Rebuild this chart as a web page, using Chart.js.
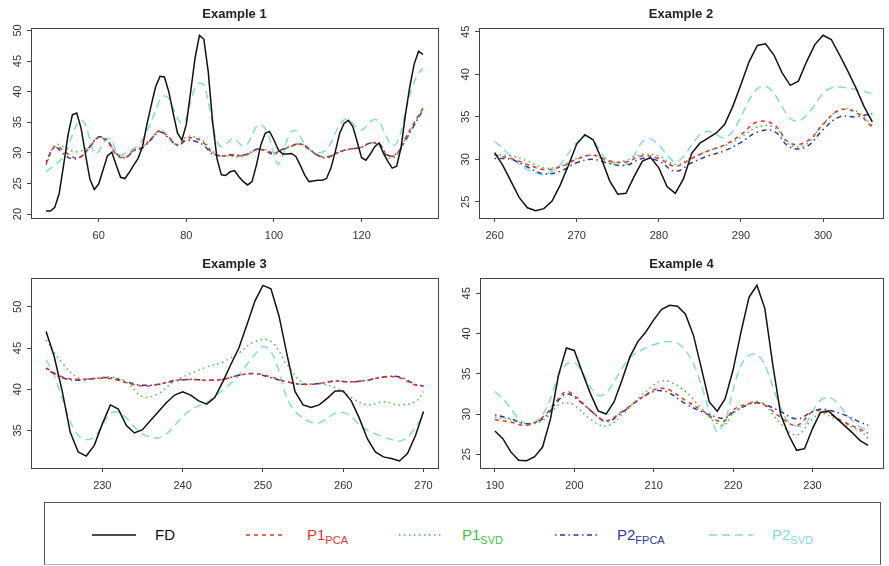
<!DOCTYPE html>
<html>
<head>
<meta charset="utf-8">
<script src="https://cdn.jsdelivr.net/npm/chart.js@4.4.1/dist/chart.umd.min.js"></script>
<style>
  body { margin: 0; background: #fff; }
  #wrap { position: relative; width: 889px; height: 566px; overflow: hidden; font-family: "Liberation Sans", Arial, sans-serif; }
  #wrap canvas { position: absolute; }
  #legend { position: absolute; left: 44px; top: 502px; width: 837px; height: 63px; border: 1px solid #555; border-bottom-color: #bbb; box-sizing: border-box; }
  .key { position: absolute; top: 528px; }
  .lab { position: absolute; top: 527px; font-size: 15px; line-height: 16px; white-space: nowrap; }
  .lab sub { font-size: 11px; vertical-align: -4px; line-height: 0; }
</style>
</head>
<body>
<div id="wrap">
  <canvas id="c1" width="444" height="250" style="left:0;top:0"></canvas>
  <canvas id="c2" width="445" height="250" style="left:444px;top:0"></canvas>
  <canvas id="c3" width="444" height="250" style="left:0;top:250px"></canvas>
  <canvas id="c4" width="445" height="250" style="left:444px;top:250px"></canvas>
  <div id="legend"></div>
  <svg class="key" style="left:92px" width="44" height="14"><line x1="0" y1="7" x2="44" y2="7" stroke="#111" stroke-width="1.5"/></svg>
  <span class="lab" style="left:155px;color:#111">FD</span>
  <svg class="key" style="left:246px" width="40" height="14"><line x1="0" y1="7" x2="40" y2="7" stroke="#e8312f" stroke-width="1.5" stroke-dasharray="4,4"/></svg>
  <span class="lab" style="left:307px;color:#e8312f">P1<sub>PCA</sub></span>
  <svg class="key" style="left:399px" width="44" height="14"><line x1="0" y1="7" x2="44" y2="7" stroke="#3ec43e" stroke-width="1.5" stroke-dasharray="1.5,3.5"/></svg>
  <span class="lab" style="left:462px;color:#3ec43e">P1<sub>SVD</sub></span>
  <svg class="key" style="left:555px" width="44" height="14"><line x1="0" y1="7" x2="44" y2="7" stroke="#2b3a9e" stroke-width="1.5" stroke-dasharray="1.5,3.5,5,3.5"/></svg>
  <span class="lab" style="left:617px;color:#2b3a9e">P2<sub>FPCA</sub></span>
  <svg class="key" style="left:709px" width="44" height="14"><line x1="0" y1="7" x2="44" y2="7" stroke="#84dcd5" stroke-width="1.5" stroke-dasharray="8,5"/></svg>
  <span class="lab" style="left:772px;color:#84dcd5">P2<sub>SVD</sub></span>
</div>
<script>
// Example 1
const ex1X = [48,49,50,51,52,53,54,55,56,57,58,59,60,61,62,63,64,65,66,67,68,69,70,71,72,73,74,75,76,77,78,79,80,81,82,83,84,85,86,87,88,89,90,91,92,93,94,95,96,97,98,99,100,101,102,103,104,105,106,107,108,109,110,111,112,113,114,115,116,117,118,119,120,121,122,123,124,125,126,127,128,129,130,131,132,133,134];
const ex1FD = [20.5,20.5,21.1,23.4,28.0,32.9,36.2,36.5,34.0,29.7,25.7,24.0,24.9,27.2,29.5,30.1,28.0,26.0,25.8,26.8,28.0,29.1,31.0,34.6,37.8,40.8,42.5,42.4,40.0,36.5,33.2,32.1,34.6,40.0,45.5,49.2,48.6,43.3,35.1,29.1,26.4,26.3,26.9,27.1,26.1,25.3,24.75,25.3,28.0,31.3,33.2,33.5,32.1,30.5,29.8,29.8,29.9,29.4,28.0,26.4,25.3,25.4,25.5,25.5,25.8,27.5,30.2,33.2,34.8,35.3,34.3,31.8,29.2,28.8,29.8,31.0,31.6,29.9,28.6,27.5,27.8,30.8,36.2,40.8,44.5,46.6,46.1];
const ex1P2SVD = [26.9,27.5,28.0,28.6,29.4,31.0,32.9,34.6,35.4,34.6,32.1,29.9,30.2,31.6,32.3,32.1,30.2,29.6,29.9,30.3,30.7,31.3,32.1,33.5,35.1,37.0,38.7,39.3,38.9,37.3,35.7,34.8,35.7,38.4,40.6,41.4,41.1,38.4,34.6,31.8,31.0,31.3,32.1,32.4,31.6,31.1,31.5,32.9,34.3,34.6,34.0,32.4,29.7,28.1,29.4,32.1,33.5,33.6,32.7,31.4,30.6,30.2,30.0,30.1,30.5,31.6,33.2,34.6,35.4,35.5,34.8,34.0,33.7,34.3,35.1,35.5,35.1,33.7,32.1,31.2,31.6,33.5,36.7,39.4,41.6,43.0,43.8];
const ex1XS = [48,50,52,54,56,58,60,62,64,66,68,70,72,74,76,78,80,82,84,86,88,90,92,94,96,98,100,102,104,106,108,110,112,114,116,118,120,122,124,126,128,130,132,134];
const ex1P1PCA = [28.2,31.0,30.4,29.3,29.4,31.0,32.5,31.8,29.7,29.2,30.4,30.9,32.3,33.6,32.5,31.3,32.3,32.4,31.6,30.0,29.5,29.6,29.5,29.8,30.5,30.4,30.0,30.5,31.1,31.4,30.6,29.6,29.3,29.9,30.4,30.7,30.9,31.6,31.3,29.5,29.8,32.4,34.9,37.3];
const ex1P1SVD = [28.0,31.3,31.0,30.3,30.3,31.2,32.5,32.0,29.9,29.3,30.5,31.0,32.4,33.7,32.6,31.4,32.6,32.6,31.9,30.2,29.5,29.5,29.3,29.7,30.5,30.5,30.0,30.6,31.2,31.5,30.6,29.5,29.2,29.8,30.4,30.7,31.0,31.6,31.2,29.2,29.6,32.3,34.7,37.2];
const ex1P2FPCA = [28.6,30.9,29.8,29.0,29.4,31.0,32.6,32.0,29.9,29.2,30.3,30.8,32.2,33.4,32.4,31.2,32.0,31.9,31.2,29.8,29.5,29.7,29.6,29.8,30.6,30.3,29.8,30.6,31.1,31.5,30.7,29.6,29.2,29.8,30.4,30.7,30.9,31.6,31.5,29.6,29.9,32.0,34.5,37.0];
const ex1XTicks = [60,80,100,120];
const ex1YTicks = [20,25,30,35,40,45,50];

// Example 2
const ex2X = [260,261,262,263,264,265,266,267,268,269,270,271,272,273,274,275,276,277,278,279,280,281,282,283,284,285,286,287,288,289,290,291,292,293,294,295,296,297,298,299,300,301,302,303,304,305,306];
const ex2FD = [30.8,29.3,27.4,25.5,24.3,23.95,24.2,25.1,27.0,29.3,31.8,32.9,32.3,30.1,27.5,25.9,26.0,28.0,29.8,30.2,29.0,26.8,26.0,27.7,30.7,31.9,32.5,33.1,34.1,36.2,38.8,41.5,43.4,43.6,42.3,40.2,38.7,39.2,41.5,43.5,44.6,44.1,42.3,40.4,38.4,36.2,34.4];
const ex2P2SVD = [32.1,31.3,30.3,29.4,28.8,28.4,28.2,28.6,29.4,30.7,32.0,32.7,32.3,30.7,29.7,29.3,29.4,30.5,32.1,32.4,31.7,30.5,29.7,30.3,31.7,32.9,33.3,32.9,32.5,33.3,35.0,37.0,38.3,38.6,37.8,36.2,34.8,34.5,35.2,36.4,37.8,38.4,38.5,38.4,38.2,38.0,37.7];
const ex2XS = [260,262,264,266,268,270,272,274,276,278,280,282,284,286,288,290,292,294,296,298,300,302,304,306];
const ex2P1PCA = [30.5,30.1,29.4,28.8,29.1,30.0,30.5,29.8,29.7,30.4,30.1,29.2,30.1,31.0,31.7,32.9,34.4,34.1,31.9,32.1,34.1,35.8,35.5,33.8];
const ex2P1SVD = [30.6,30.4,29.8,29.0,29.2,30.1,30.5,29.7,29.9,30.6,30.4,29.4,30.2,31.0,31.6,32.6,33.8,33.8,31.7,31.8,34.2,35.8,35.7,34.0];
const ex2P2FPCA = [30.1,30.0,29.1,28.3,28.6,29.6,30.0,29.5,29.3,30.1,29.8,28.6,29.6,30.4,31.0,32.0,33.2,33.3,31.4,31.5,33.5,35.0,35.0,35.4];
const ex2XTicks = [260,270,280,290,300];
const ex2YTicks = [25,30,35,40,45];

// Example 3
const ex3X = [223,224,225,226,227,228,229,230,231,232,233,234,235,236,237,238,239,240,241,242,243,244,245,246,247,248,249,250,251,252,253,254,255,256,257,258,259,260,261,262,263,264,265,266,267,268,269,270];
const ex3FD = [47.0,44.0,39.8,34.8,32.4,31.9,33.2,35.8,38.1,37.6,35.6,34.7,35.1,36.2,37.3,38.4,39.3,39.7,39.3,38.6,38.2,39.0,40.9,43.0,45.0,47.8,50.7,52.6,52.2,48.9,44.2,39.7,38.1,37.8,38.1,38.9,39.8,39.8,38.6,36.5,34.0,32.4,31.8,31.6,31.3,32.2,34.4,37.3];
const ex3P2SVD = [43.6,41.7,38.9,36.1,34.4,33.9,34.2,35.6,37.1,37.2,36.5,35.4,34.6,34.2,34.1,34.6,35.6,36.7,37.5,38.0,38.4,39.1,39.9,40.7,41.7,43.0,44.2,45.2,44.6,42.2,38.9,37.3,36.5,36.0,35.9,36.5,37.1,37.2,36.7,35.7,35.0,34.6,34.2,33.9,33.7,34.2,35.4,36.9];
const ex3XS = [223,225,227,229,231,233,235,237,239,241,243,245,247,249,251,253,255,257,259,261,263,265,267,269,270];
const ex3P1PCA = [42.6,41.5,41.2,41.3,41.3,40.8,40.4,40.6,41.1,41.2,41.1,41.2,41.7,41.9,41.5,40.9,40.6,40.7,41.0,40.9,41.1,41.5,41.4,40.5,40.4];
const ex3P1SVD = [46.0,43.2,41.4,41.3,41.5,40.9,39.1,39.5,41.0,41.9,42.7,43.3,44.4,45.8,45.8,43.0,40.8,40.7,40.2,39.0,38.1,38.5,38.1,38.5,39.7];
const ex3P2FPCA = [42.5,41.4,41.1,41.3,41.4,40.9,40.5,40.6,41.0,41.2,41.1,41.2,41.7,41.9,41.4,40.9,40.6,40.7,41.0,40.9,41.1,41.5,41.5,40.6,40.4];
const ex3XTicks = [230,240,250,260,270];
const ex3YTicks = [35,40,45,50];

// Example 4
const ex4X = [190,191,192,193,194,195,196,197,198,199,200,201,202,203,204,205,206,207,208,209,210,211,212,213,214,215,216,217,218,219,220,221,222,223,224,225,226,227,228,229,230,231,232,233,234,235,236,237];
const ex4FD = [27.9,26.95,25.3,24.25,24.2,24.7,25.9,29.4,34.8,38.2,37.9,35.2,32.6,30.4,30.0,31.5,34.2,37.1,39.0,40.2,41.7,43.0,43.5,43.4,42.4,39.8,35.7,31.5,30.35,31.9,35.5,40.2,44.5,46.0,43.1,36.1,29.9,27.4,25.5,25.7,28.2,30.2,30.4,29.5,28.6,27.7,26.7,26.1];
const ex4P2SVD = [32.8,31.9,30.7,29.4,28.8,29.0,29.9,31.9,34.8,36.2,36.4,35.2,33.4,32.3,32.6,34.0,35.7,37.0,37.7,38.2,38.6,38.9,39.0,38.8,37.9,36.3,33.6,30.3,27.8,29.2,33.0,36.1,37.3,37.4,36.1,33.4,30.7,29.0,28.5,28.6,30.3,31.7,32.1,31.5,30.3,29.2,28.4,28.0];
const ex4XS = [190,192,194,196,198,199,200,202,204,206,208,210,211,212,214,216,218,219,220,222,223,224,226,228,230,231,232,234,236,237];
const ex4P1PCA = [29.3,29.0,28.6,29.6,31.9,32.8,32.3,30.5,29.2,30.3,31.7,33.0,33.2,33.0,31.7,30.5,29.2,29.2,30.5,31.3,31.4,31.1,29.6,28.6,30.3,30.4,30.1,29.0,28.1,27.6];
const ex4P1SVD = [29.6,29.3,28.8,29.2,31.1,31.4,31.1,29.4,28.5,29.9,31.9,33.6,34.1,34.0,32.8,30.7,28.8,28.7,30.1,31.3,31.6,31.1,28.8,27.4,29.4,30.1,29.8,28.8,27.9,27.0];
const ex4P2FPCA = [29.9,29.4,28.8,29.4,31.7,32.5,32.1,30.5,29.1,30.2,31.7,32.8,32.9,32.6,31.3,30.3,29.6,29.5,30.2,31.2,31.4,31.2,30.3,29.4,30.3,30.6,30.5,29.9,29.0,28.6];
const ex4XTicks = [190,200,210,220,230];
const ex4YTicks = [25,30,35,40,45];

const FONT = '"Liberation Sans", Arial, sans-serif';
const BLACK = "#111111";
const RED = "#e8312f";
const GREEN = "#3ec43e";
const BLUE = "#2b3a9e";
const CYAN = "#84dcd5";

// box around the plot region plus R-style vertical y labels
const rBox = {
  id: "rBox",
  afterDraw(chart) {
    const { ctx, chartArea: a } = chart;
    const y = chart.scales.y;
    ctx.save();
    ctx.strokeStyle = "#444";
    ctx.lineWidth = 1;
    ctx.strokeRect(Math.round(a.left) + 0.5, Math.round(a.top) + 0.5, Math.round(a.right - a.left), Math.round(a.bottom - a.top));
    ctx.fillStyle = "#333";
    ctx.font = "11px " + FONT;
    ctx.textAlign = "center";
    ctx.textBaseline = "middle";
    y.ticks.forEach((t) => {
      ctx.save();
      ctx.translate(a.left - 13, y.getPixelForValue(t.value));
      ctx.rotate(-Math.PI / 2);
      ctx.fillText(String(t.value), 0, 0);
      ctx.restore();
    });
    ctx.restore();
  },
};

function line(xs, ys, color, dash, tension) {
  return {
    data: xs.map((x, i) => ({ x: x, y: ys[i] })),
    borderColor: color,
    borderWidth: 1.5,
    borderDash: dash,
    pointRadius: 0,
    tension: tension,
    fill: false,
  };
}

function makeChart(id, title, box, xr, yr, xTicks, yTicks, datasets) {
  const cv = document.getElementById(id);
  return new Chart(cv, {
    type: "line",
    data: { datasets: datasets },
    options: {
      responsive: false,
      animation: false,
      devicePixelRatio: 1,
      layout: { autoPadding: false, padding: { left: 0, top: 0, bottom: 0, right: cv.width - box.right } },
      plugins: {
        legend: { display: false },
        tooltip: { enabled: false },
        title: {
          display: true,
          text: title,
          fullSize: false,
          color: "#222",
          font: { family: FONT, size: 13, weight: "bold" },
          padding: { top: 7, bottom: box.top - 7 - 15.6 },
        },
      },
      scales: {
        x: {
          type: "linear",
          min: xr[0],
          max: xr[1],
          afterBuildTicks: (s) => { s.ticks = xTicks.map((v) => ({ value: v })); },
          afterFit: (s) => { s.height = cv.height - box.bottom; },
          grid: { drawOnChartArea: false, drawTicks: true, tickLength: 4, color: "#444" },
          border: { display: false },
          ticks: { font: { family: FONT, size: 11 }, color: "#333", padding: 7, maxRotation: 0, autoSkip: false },
        },
        y: {
          type: "linear",
          min: yr[0],
          max: yr[1],
          afterBuildTicks: (s) => { s.ticks = yTicks.map((v) => ({ value: v })); },
          afterFit: (s) => { s.width = box.left; },
          grid: { drawOnChartArea: false, drawTicks: true, tickLength: 4, color: "#444" },
          border: { display: false },
          ticks: { display: false },
        },
      },
    },
    plugins: [rBox],
  });
}

function sets(xs, fd, svd2, xsS, pca, svd, fpca) {
  return [
    line(xs, fd, BLACK, [], 0),
    line(xsS, pca, RED, [4, 4], 0.4),
    line(xsS, svd, GREEN, [1.5, 3.5], 0.4),
    line(xsS, fpca, BLUE, [1.5, 3.5, 5, 3.5], 0.4),
    line(xs, svd2, CYAN, [8, 5], 0.3),
  ];
}

makeChart("c1", "Example 1", { left: 31, right: 438, top: 28, bottom: 218 }, [44.56, 137.44], [19.35, 50.4], ex1XTicks, ex1YTicks,
  sets(ex1X, ex1FD, ex1P2SVD, ex1XS, ex1P1PCA, ex1P1SVD, ex1P2FPCA));
makeChart("c2", "Example 2", { left: 35, right: 439, top: 28, bottom: 218 }, [258.1, 307.3], [23.1, 45.45], ex2XTicks, ex2YTicks,
  sets(ex2X, ex2FD, ex2P2SVD, ex2XS, ex2P1PCA, ex2P1SVD, ex2P2FPCA));
makeChart("c3", "Example 3", { left: 31, right: 438, top: 28, bottom: 218 }, [221.12, 271.8], [30.45, 53.5], ex3XTicks, ex3YTicks,
  sets(ex3X, ex3FD, ex3P2SVD, ex3XS, ex3P1PCA, ex3P1SVD, ex3P2FPCA));
makeChart("c4", "Example 4", { left: 36, right: 439, top: 28, bottom: 218 }, [188.12, 238.88], [23.3, 46.9], ex4XTicks, ex4YTicks,
  sets(ex4X, ex4FD, ex4P2SVD, ex4XS, ex4P1PCA, ex4P1SVD, ex4P2FPCA));
</script>
</body>
</html>
